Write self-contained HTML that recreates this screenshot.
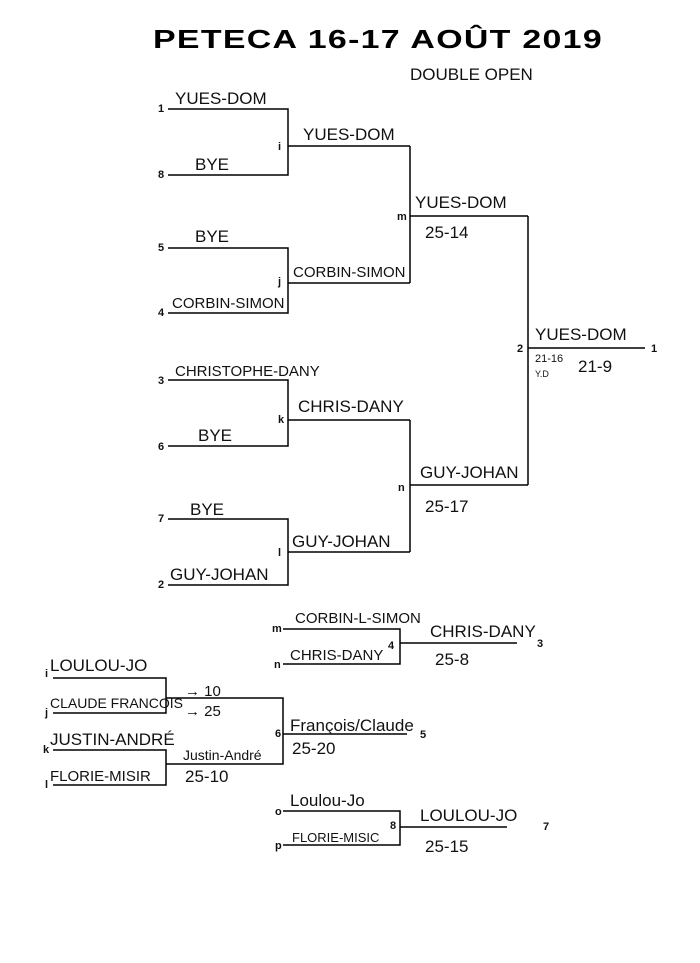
<!DOCTYPE html>
<html><head><meta charset="utf-8"><style>
html,body{margin:0;padding:0;background:#fff;}
svg{display:block;}
.h{font-family:"Liberation Sans",sans-serif;font-size:17px;fill:#111;}
.n{font-family:"Liberation Sans",sans-serif;font-size:11px;font-weight:bold;fill:#111;}
</style></head><body>
<svg width="700" height="963" viewBox="0 0 700 963" xmlns="http://www.w3.org/2000/svg">
<text x="378" y="48" text-anchor="middle" font-family="Liberation Sans, sans-serif" font-weight="bold" font-size="26" letter-spacing="1" fill="#000" textLength="450" lengthAdjust="spacingAndGlyphs">PETECA 16-17 AOÛT 2019</text>
<text x="410" y="80" class="h" font-size="18">DOUBLE OPEN</text>
<g stroke="#000" stroke-width="1.5" fill="none">
<path d="M168 109H288V175H168M288 146H410M168 248H288V313H168M288 283H410M410 146V283M410 216H528"/>
<path d="M168 380H288V446H168M288 420H410M168 519H288V585H168M288 552H410M410 420V552M410 485H528M528 216V485M528 348H645"/>
<path d="M283 629H400V664H283M400 643H517"/>
<path d="M53 678H166V713H53M53 750H166V785H53M166 698H283V764H166M283 734H407"/>
<path d="M283 811H400V845H283M400 827H507"/>
</g>
<g class="n">
<text x="158" y="112">1</text><text x="158" y="178">8</text><text x="278" y="150">i</text>
<text x="158" y="251">5</text><text x="158" y="316">4</text><text x="278" y="285">j</text>
<text x="397" y="220">m</text>
<text x="158" y="384">3</text><text x="158" y="450">6</text><text x="278" y="423">k</text>
<text x="158" y="522">7</text><text x="158" y="588">2</text><text x="278" y="556">l</text>
<text x="398" y="491">n</text>
<text x="517" y="352">2</text><text x="651" y="352">1</text>
<text x="272" y="632">m</text><text x="274" y="668">n</text><text x="388" y="649">4</text><text x="537" y="647">3</text>
<text x="45" y="677">i</text><text x="45" y="716">j</text><text x="43" y="753">k</text><text x="45" y="788">l</text>
<text x="275" y="737">6</text><text x="420" y="738">5</text>
<text x="275" y="815">o</text><text x="275" y="849">p</text><text x="390" y="829">8</text><text x="543" y="830">7</text>
</g>
<g class="h">
<text x="175" y="104">YUES-DOM</text><text x="195" y="170">BYE</text>
<text x="303" y="140">YUES-DOM</text>
<text x="195" y="242">BYE</text><text x="172" y="308" font-size="15">CORBIN-SIMON</text>
<text x="293" y="277" font-size="15">CORBIN-SIMON</text>
<text x="415" y="208">YUES-DOM</text><text x="425" y="238">25-14</text>
<text x="175" y="376" font-size="15">CHRISTOPHE-DANY</text><text x="198" y="441">BYE</text>
<text x="298" y="412">CHRIS-DANY</text>
<text x="190" y="515">BYE</text><text x="170" y="580">GUY-JOHAN</text>
<text x="292" y="547">GUY-JOHAN</text>
<text x="420" y="478">GUY-JOHAN</text><text x="425" y="512">25-17</text>
<text x="535" y="340">YUES-DOM</text>
<text x="535" y="362" font-size="11">21-16</text><text x="535" y="377" font-size="9">Y.D</text>
<text x="578" y="372">21-9</text>
<text x="295" y="623" font-size="15">CORBIN-L-SIMON</text>
<text x="290" y="660" font-size="15">CHRIS-DANY</text>
<text x="430" y="637">CHRIS-DANY</text><text x="435" y="665">25-8</text>
<text x="50" y="671">LOULOU-JO</text>
<text x="50" y="708" font-size="14">CLAUDE FRANCOIS</text>
<text x="185" y="696" font-size="15">→ 10</text><text x="185" y="716" font-size="15">→ 25</text>
<text x="50" y="745">JUSTIN-ANDRÉ</text>
<text x="50" y="781" font-size="15">FLORIE-MISIR</text>
<text x="183" y="760" font-size="14">Justin-André</text><text x="185" y="782">25-10</text>
<text x="290" y="731">François/Claude</text><text x="292" y="754">25-20</text>
<text x="290" y="806">Loulou-Jo</text><text x="292" y="842" font-size="13">FLORIE-MISIC</text>
<text x="420" y="821">LOULOU-JO</text><text x="425" y="852">25-15</text>
</g>
</svg>
</body></html>
